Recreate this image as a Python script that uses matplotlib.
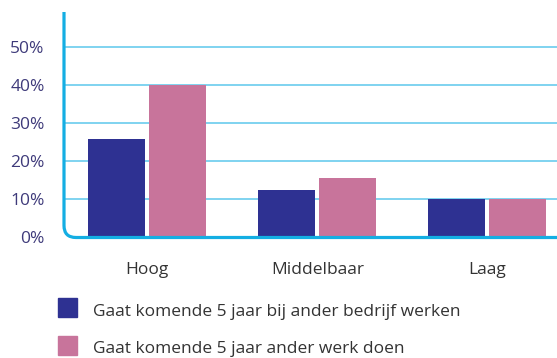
import numpy as np
import matplotlib
matplotlib.use("Agg")
import matplotlib.pyplot as plt
from matplotlib.path import Path
from matplotlib.patches import PathPatch, Rectangle
from matplotlib.transforms import Affine2D

# data
categories = ["Hoog", "Middelbaar", "Laag"]
ander_bedrijf = [25.8, 12.4, 10.0]
ander_werk = [40.0, 15.5, 10.0]
series_labels = [
    "Gaat komende 5 jaar bij ander bedrijf werken",
    "Gaat komende 5 jaar ander werk doen",
]
y_ticks = [0, 10, 20, 30, 40, 50]

blue = "#2e3192"
pink = "#c8749b"
axis_color = "#14aee3"
grid_color = "#5cc8ec"
tick_color = "#3e3a7a"
text_color = "#333333"

plt.rcParams["font.family"] = ["Open Sans", "DejaVu Sans"]
fs = 12.5

W, H = 557, 358
fig = plt.figure(figsize=(W / 100, H / 100), dpi=100)
ax_left, ax_right = 64, 557
ax_top, ax_bottom = 12, 237
ax = fig.add_axes([ax_left / W, 1 - ax_bottom / H,
                   (ax_right - ax_left) / W, (ax_bottom - ax_top) / H])

x = np.arange(len(categories))
width = 0.335
offset = 0.18
ax.bar(x - offset, ander_bedrijf, width, color=blue, zorder=3)
ax.bar(x + offset, ander_werk, width, color=pink, zorder=3)

ax.set_xlim(-0.49, 2.41)
ax.set_ylim(0, 59.2)
for t in y_ticks[1:]:
    ax.axhline(t, color=grid_color, lw=1.1, zorder=1)

for s in ax.spines.values():
    s.set_visible(False)
ax.set_yticks(y_ticks)
ax.set_yticklabels([f"{t}%" for t in y_ticks], color=tick_color, fontsize=fs)
ax.tick_params(axis="y", length=0, pad=14)
ax.set_xticks(x)
ax.set_xticklabels(categories, color=text_color, fontsize=fs)
ax.tick_params(axis="x", length=0, pad=18)

# axis line with rounded bottom-left corner, in figure pixels
r = 12
yb = H - ax_bottom - 0.5
yt = H - ax_top
verts = [(ax_left, yt), (ax_left, yb + r), (ax_left, yb), (ax_left + r, yb), (ax_right, yb)]
codes = [Path.MOVETO, Path.LINETO, Path.CURVE3, Path.CURVE3, Path.LINETO]
px = Affine2D().scale(1 / W, 1 / H) + fig.transFigure
fig.patches.append(PathPatch(Path(verts, codes), fill=False, edgecolor=axis_color,
                             lw=2.3, transform=px, capstyle="butt"))

# legend
for i, (lab, col) in enumerate(zip(series_labels, [blue, pink])):
    top = 298 + i * 38
    base = 316 + i * 37
    fig.patches.append(Rectangle((58, H - top - 19), 19, 19, color=col, transform=px))
    fig.text(93 / W, 1 - base / H, lab, color=text_color, fontsize=fs,
             va="baseline", ha="left")

fig.savefig("out.png", dpi=100)
